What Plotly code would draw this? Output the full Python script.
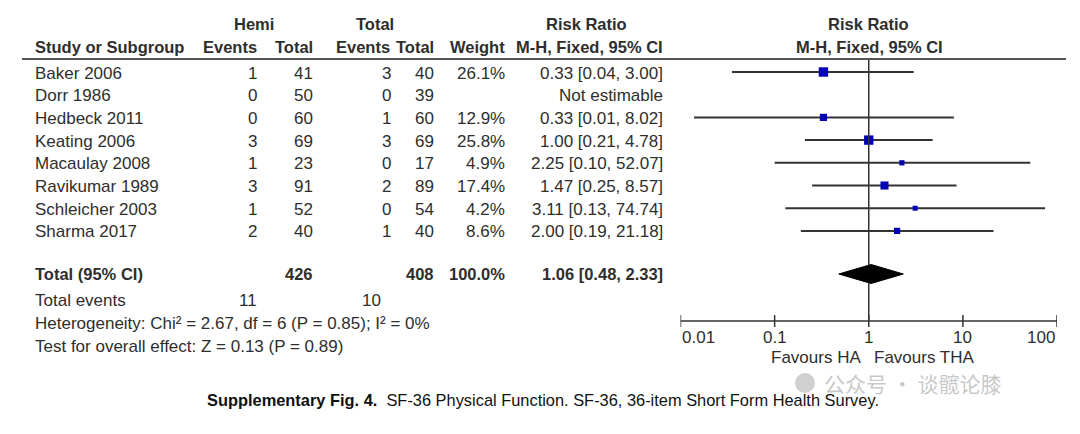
import math
import plotly.graph_objects as go

# ---------------- data ----------------
studies = ["Baker 2006", "Dorr 1986", "Hedbeck 2011", "Keating 2006",
           "Macaulay 2008", "Ravikumar 1989", "Schleicher 2003", "Sharma 2017"]
hemi_events = [1, 0, 0, 3, 1, 3, 1, 2]
hemi_total = [41, 50, 60, 69, 23, 91, 52, 40]
tha_events = [3, 0, 1, 3, 0, 2, 0, 1]
tha_total = [40, 39, 60, 69, 17, 89, 54, 40]
weights = [26.1, None, 12.9, 25.8, 4.9, 17.4, 4.2, 8.6]
rr = [0.33, None, 0.33, 1.00, 2.25, 1.47, 3.11, 2.00]
ci_low = [0.0353, None, 0.0139, 0.21, 0.10, 0.25, 0.13, 0.19]
ci_high = [3.00, None, 8.02, 4.78, 52.07, 8.57, 74.74, 21.18]

pooled_rr, pooled_low, pooled_high = 1.06, 0.48, 2.33
total_hemi, total_tha, total_weight = 426, 408, 100.0
events_hemi, events_tha = 11, 10
heterogeneity = "Heterogeneity: Chi² = 2.67, df = 6 (P = 0.85); I² = 0%"
overall = "Test for overall effect: Z = 0.13 (P = 0.89)"
tick_vals = [0.01, 0.1, 1, 10, 100]
tick_text = ["0.01", "0.1", "1", "10", "100"]
caption_bold = "Supplementary Fig. 4."
caption_rest = "SF-36 Physical Function. SF-36, 36-item Short Form Health Survey."

# ---------------- layout constants ----------------
W, H = 1080, 434
FONT = "Liberation Sans, Arial, sans-serif"
TXT = "#2e2e2e"
FS = 17      # body text size
FSB = 16.5   # bold header size
row_y0, row_step = 72, 22.7
total_y, events_y, het_y, test_y = 274, 300, 323, 346
axis_y = 321
header_line_y = 59

def px(x):
    return x / W

fig = go.Figure()

row_ys = [row_y0 + i * row_step for i in range(len(studies))]

# CI lines
for y, lo, hi in zip(row_ys, ci_low, ci_high):
    if lo is None:
        continue
    fig.add_trace(go.Scatter(x=[lo, hi], y=[y, y], mode="lines",
                             line=dict(color="#333333", width=2),
                             hoverinfo="skip", showlegend=False))

# squares (size scaled by weight)
sx, sy, ss = [], [], []
for y, r, w in zip(row_ys, rr, weights):
    if r is None:
        continue
    sx.append(r)
    sy.append(y)
    ss.append(2 + 1.45 * w ** 0.5)
fig.add_trace(go.Scatter(x=sx, y=sy, mode="markers",
                         marker=dict(symbol="square", size=ss, color="#0000b4",
                                     opacity=1, line=dict(width=0)),
                         hoverinfo="skip", showlegend=False))

# vertical line at 1
fig.add_trace(go.Scatter(x=[1, 1], y=[header_line_y, axis_y], mode="lines",
                         line=dict(color="#333333", width=1.5),
                         hoverinfo="skip", showlegend=False))

# diamond
dh = 9.5
fig.add_trace(go.Scatter(x=[pooled_low, pooled_rr, pooled_high, pooled_rr, pooled_low],
                         y=[total_y, total_y - dh, total_y, total_y + dh, total_y],
                         mode="lines", fill="toself", fillcolor="#000000",
                         line=dict(color="#000000", width=1),
                         hoverinfo="skip", showlegend=False))

# x axis line and ticks
fig.add_trace(go.Scatter(x=[tick_vals[0], tick_vals[-1]], y=[axis_y, axis_y], mode="lines",
                         line=dict(color="#333333", width=1.5),
                         hoverinfo="skip", showlegend=False))
tx, ty = [], []
for t in tick_vals:
    tx += [t, t, None]
    ty += [axis_y - 6, axis_y + 6, None]
fig.add_trace(go.Scatter(x=tx, y=ty, mode="lines",
                         line=dict(color="#333333", width=1.5),
                         hoverinfo="skip", showlegend=False))

ann = []

def txt(x, y, s, anchor="left", bold=False, size=None, color=TXT, family=FONT):
    if size is None:
        size = FSB if bold else FS
    if bold:
        s = "<b>" + s + "</b>"
    ann.append(dict(x=px(x), y=y, xref="paper", yref="y",
                    text=s, showarrow=False, xanchor=anchor, yanchor="middle",
                    font=dict(family=family, size=size, color=color)))

# headers
hy1, hy2 = 24, 47
txt(254, hy1, "Hemi", "center", True)
txt(375, hy1, "Total", "center", True)
txt(586, hy1, "Risk Ratio", "center", True)
txt(868, hy1, "Risk Ratio", "center", True)
txt(33, hy2, "Study or Subgroup", "left", True)
txt(259, hy2, "Events", "right", True)
txt(315, hy2, "Total", "right", True)
txt(392, hy2, "Events", "right", True)
txt(436, hy2, "Total", "right", True)
txt(507, hy2, "Weight", "right", True)
txt(665, hy2, "M-H, Fixed, 95% CI", "right", True)
txt(869, hy2, "M-H, Fixed, 95% CI", "center", True)

# rows
for i, y in enumerate(row_ys):
    ty_ = y + 1
    txt(33, ty_, studies[i], "left")
    txt(259, ty_, str(hemi_events[i]), "right")
    txt(315, ty_, str(hemi_total[i]), "right")
    txt(393, ty_, str(tha_events[i]), "right")
    txt(436, ty_, str(tha_total[i]), "right")
    if weights[i] is not None:
        txt(507, ty_, f"{weights[i]:.1f}%", "right")
        txt(665, ty_, f"{rr[i]:.2f} [{ci_low[i]:.2f}, {ci_high[i]:.2f}]", "right")
    else:
        txt(665, ty_, "Not estimable", "right")

# totals
txt(33, total_y, "Total (95% CI)", "left", True)
txt(315, total_y, str(total_hemi), "right", True)
txt(436, total_y, str(total_tha), "right", True)
txt(507, total_y, f"{total_weight:.1f}%", "right", True)
txt(665, total_y, f"{pooled_rr:.2f} [{pooled_low:.2f}, {pooled_high:.2f}]", "right", True)
txt(33, events_y, "Total events", "left")
txt(259, events_y, str(events_hemi), "right")
txt(383, events_y, str(events_tha), "right")
txt(33, het_y, heterogeneity, "left")
txt(33, test_y, overall, "left")

# tick labels (data coordinates on log axis)
for t, s in zip(tick_vals, tick_text):
    a = "left" if t == tick_vals[0] else ("right" if t == tick_vals[-1] else "center")
    ann.append(dict(x=math.log10(t), y=axis_y + 16, xref="x", yref="y", text=s,
                    showarrow=False, xanchor=a, yanchor="middle",
                    font=dict(family=FONT, size=FS, color=TXT)))
ann.append(dict(x=math.log10(1), y=axis_y + 36, xref="x", yref="y", text="Favours HA",
                showarrow=False, xanchor="right", xshift=-6, yanchor="middle",
                font=dict(family=FONT, size=FS, color=TXT)))
ann.append(dict(x=math.log10(1), y=axis_y + 36, xref="x", yref="y", text="Favours THA",
                showarrow=False, xanchor="left", xshift=3, yanchor="middle",
                font=dict(family=FONT, size=FS, color=TXT)))

# caption
ann.append(dict(x=px(543), y=400, xref="paper", yref="y",
                text=f"<b>{caption_bold}</b>  {caption_rest}",
                showarrow=False, xanchor="center", yanchor="middle",
                font=dict(family=FONT, size=16.4, color="#111111")))
# watermark
ann.append(dict(x=px(822), y=383, xref="paper", yref="y", text="公众号 · 谈髋论膝",
                showarrow=False, xanchor="left", yanchor="middle",
                font=dict(family="Noto Sans CJK SC", size=21, color="rgba(150,150,150,0.55)")))

shapes = [
    dict(type="line", xref="paper", yref="y", x0=px(22), x1=px(1066),
         y0=header_line_y, y1=header_line_y, line=dict(color="#555555", width=2)),
    dict(type="circle", xref="paper", yref="y", x0=px(795), x1=px(815),
         y0=373, y1=393, fillcolor="rgba(150,150,150,0.45)", line=dict(width=0)),
]

fig.update_layout(
    width=W, height=H, autosize=False,
    margin=dict(l=0, r=0, t=0, b=0),
    paper_bgcolor="white", plot_bgcolor="rgba(0,0,0,0)",
    showlegend=False, hovermode=False,
    xaxis=dict(type="log", range=[-2, 2], domain=[px(680.5), px(1057)],
               showgrid=False, zeroline=False, showline=False,
               showticklabels=False, ticks="", fixedrange=True),
    yaxis=dict(range=[H, 0], domain=[0, 1], showgrid=False, zeroline=False,
               showline=False, showticklabels=False, ticks="", fixedrange=True),
    annotations=ann, shapes=shapes,
)

fig.write_html("out.html", config={"displayModeBar": False},
               post_script="document.body.style.margin='0px';")
